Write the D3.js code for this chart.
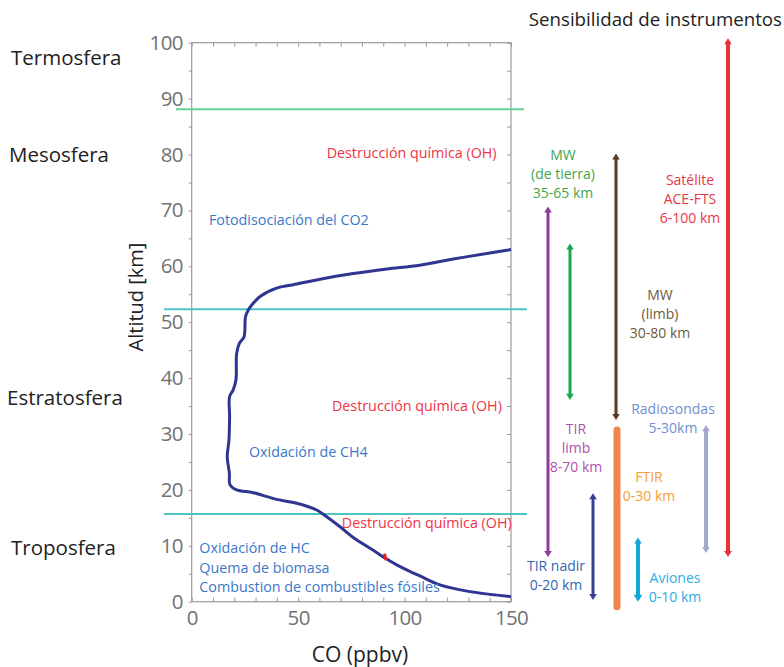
<!DOCTYPE html>
<html><head><meta charset="utf-8">
<script src="https://cdn.jsdelivr.net/npm/d3@7"></script>
<style>
body{margin:0;background:#fff;}
svg text{font-family:"Open Sans","Noto Sans",sans-serif;}
</style></head>
<body><svg id="c" width="784" height="667"></svg>
<script>
// ---------- DATA ----------
const profileAlt = [0.9,1.8,3.0,4.6,5.7,6.6,7.8,9.2,11.5,13.4,15.2,16.4,17.6,18.3,19.5,20.0,20.9,23,25.9,28.9,33.1,36.7,37.9,39.7,44.4,46.2,47.4,51,52.3,53.2,54.6,56.1,56.7,57.7,58.7,59.5,60.2,61.3,62.3,63.0];
const profileCO  = [150,130.7,116.6,107.2,101,96.3,90.8,85.3,75.9,69.7,63.4,58.7,49.3,39.9,28.9,21.1,18,17.7,16.7,17.5,17.8,17.8,19.5,20.8,21.1,22.4,24.6,25.3,26.8,28.5,32.1,39.9,47.7,60.3,75.9,91.6,107.2,122.9,138.6,150];
const redAlt = [8.6,7.4];
const redCO  = [90.6,91.2];
const boundaryAlt = [88.1,52.3,15.7];
const layerNames = ["Termosfera","Mesosfera","Estratosfera","Troposfera"];
const xTickLabels = [0,50,100,150];
const yTickLabels = [0,10,20,30,40,50,60,70,80,90,100];
const annoText = ["Destrucción química (OH)","Fotodisociación del CO2","Destrucción química (OH)","Oxidación de CH4","Destrucción química (OH)","Oxidación de HC","Quema de biomasa","Combustion de combustibles fósiles"];
const annoCO   = [63.4,8.1,65.9,26.9,70.5,3.6,3.6,3.6];
const annoAlt  = [80.3,68.3,35.0,26.8,14.1,9.55,6.0,2.7];
const instrNames = ["ACE-FTS","TIR limb","MW tierra","MW limb","FTIR","Radiosondas","TIR nadir","Aviones"];
const instrLow  = [8.0,8.0,36.1,32.5,-0.9,8.7,0.3,0.0];
const instrHigh = [100.8,70.7,64.1,80.2,30.7,31.6,19.4,11.5];
const instrLabels = [["Satélite","ACE-FTS","6-100 km"],["TIR","limb","8-70 km"],["MW","(de tierra)","35-65 km"],["MW","(limb)","30-80 km"],["FTIR","0-30 km"],["Radiosondas","5-30km"],["TIR nadir","0-20 km"],["Aviones","0-10 km"]];
const instrLabelAlt = [74.5,30.0,79.0,54.0,21.5,33.5,5.5,3.4];

// ---------- LAYOUT / STYLE ----------
const instrX = [728,548,570,616,617,706,593,638];
const instrW = [4,3,3,3,7,4,3,4];
const instrColor = ["#e8323a","#8e3a9a","#1aa653","#5a3a22","#f0854e","#a4a8cf","#3b3f91","#12a6dc"];
const instrLabelX = [690,576,563,660,649,673,556,675];
const instrLabelColor = ["#e83848","#b050b0","#3fa64a","#6e5a3e","#f5a030","#6f8fcf","#3466b0","#2aaee8"];
const annoColor = ["#ee3344","#3a78c8","#ee3344","#3a78c8","#ee3344","#3a78c8","#3a78c8","#3a78c8"];
const boundaryColor = ["#62d293","#4ec3c3","#4ec3c3"];
const boundaryX0 = [176,164,164], boundaryX1 = [524,527,527];
const layerY = [65,162,405,555], layerX = [11,9,7,11];

const svg = d3.select("#c");
const x = d3.scaleLinear().domain([0,150]).range([191.7,511]);
const y = d3.scaleLinear().domain([0,100]).range([601.7,42.7]);

// frame
svg.append("rect").attr("x",x(0)).attr("y",y(100)).attr("width",x(150)-x(0)).attr("height",y(0)-y(100))
  .attr("fill","none").attr("stroke","#9a9a9a").attr("stroke-width",1.2);

const tickStyle = g => { g.select(".domain").remove(); g.selectAll("line").attr("stroke","#9a9a9a"); };
const minorX = d3.range(0,151,10), minorY = d3.range(0,101,5);
svg.append("g").attr("transform",`translate(0,${y(0)})`).call(d3.axisBottom(x).tickValues(minorX).tickSize(-4).tickFormat("")).call(tickStyle);
svg.append("g").attr("transform",`translate(0,${y(100)})`).call(d3.axisTop(x).tickValues(minorX).tickSize(-4).tickFormat("")).call(tickStyle);
svg.append("g").attr("transform",`translate(${x(0)},0)`).call(d3.axisLeft(y).tickValues(minorY).tickSize(3).tickFormat("")).call(tickStyle);
svg.append("g").attr("transform",`translate(${x(150)},0)`).call(d3.axisRight(y).tickValues(minorY).tickSize(-4).tickFormat("")).call(tickStyle);

// tick labels via axes
const yl = svg.append("g").attr("transform",`translate(${x(0)},0)`)
  .call(d3.axisLeft(y).tickValues(yTickLabels).tickSize(0).tickPadding(9).tickFormat(d3.format("d")));
yl.select(".domain").remove();
yl.selectAll("text").attr("font-family","Liberation Sans, Arial, sans-serif").attr("font-size",20.5).attr("fill","#727272").attr("letter-spacing",-0.7);
const xl = svg.append("g").attr("transform",`translate(0,${y(0)})`)
  .call(d3.axisBottom(x).tickValues(xTickLabels).tickSize(0).tickPadding(9).tickFormat(d3.format("d")));
xl.select(".domain").remove();
xl.selectAll("text").attr("font-family","Liberation Sans, Arial, sans-serif").attr("font-size",20.5).attr("fill","#727272").attr("letter-spacing",-0.7);

// axis titles
svg.append("text").attr("transform","translate(143,297) rotate(-90)").attr("text-anchor","middle")
  .attr("font-size",20).attr("fill","#222").text("Altitud [km]");
svg.append("text").attr("x",360).attr("y",662).attr("text-anchor","middle").attr("font-size",21).attr("fill","#222").text("CO (ppbv)");
svg.append("text").attr("x",782).attr("y",26).attr("text-anchor","end").attr("font-size",18.7).attr("fill","#222").text("Sensibilidad de instrumentos");

// layer names
layerNames.forEach((n,i)=>svg.append("text").attr("x",layerX[i]).attr("y",layerY[i]).attr("font-size",20.5).attr("fill","#222").text(n));

// boundaries
boundaryAlt.forEach((a,i)=>svg.append("line").attr("x1",boundaryX0[i]).attr("x2",boundaryX1[i]).attr("y1",y(a)).attr("y2",y(a))
  .attr("stroke",boundaryColor[i]).attr("stroke-width",2));

// profile
const line = d3.line().x(d=>x(d[0])).y(d=>y(d[1])).curve(d3.curveCatmullRom.alpha(0.5));
svg.append("path").datum(profileCO.map((c,i)=>[c,profileAlt[i]])).attr("d",line)
  .attr("fill","none").attr("stroke","#2f3590").attr("stroke-width",3).attr("stroke-linejoin","round");
svg.append("path").datum(redCO.map((c,i)=>[c,redAlt[i]])).attr("d",d3.line().x(d=>x(d[0])).y(d=>y(d[1])))
  .attr("fill","none").attr("stroke","#e8202a").attr("stroke-width",3);

// annotations
annoText.forEach((t,i)=>svg.append("text").attr("x",x(annoCO[i])).attr("y",y(annoAlt[i])).attr("dy","0.35em")
  .attr("font-size",14.3).attr("fill",annoColor[i]).text(t));

// instrument arrows
const head = (cx,cy,w,dir,col)=>{
  const s = Math.max(3,w*0.9)+0.8, h = s*1.6;
  svg.append("path").attr("d",`M${cx},${cy} L${cx-s},${cy-dir*h} L${cx+s},${cy-dir*h} Z`).attr("fill",col);
};
instrNames.forEach((n,i)=>{
  const yt = y(instrHigh[i]), yb = y(instrLow[i]);
  const w = instrW[i], col = instrColor[i];
  if(i===4){
    svg.append("line").attr("x1",instrX[i]).attr("x2",instrX[i]).attr("y1",yt).attr("y2",yb)
      .attr("stroke",col).attr("stroke-width",w).attr("stroke-linecap","round");
    return;
  }
  const hs = (Math.max(3,w*0.9)+0.8)*1.6;
  svg.append("line").attr("x1",instrX[i]).attr("x2",instrX[i]).attr("y1",yt+hs*0.6).attr("y2",yb-hs*0.6)
    .attr("stroke",col).attr("stroke-width",w);
  head(instrX[i],yt,w*0.7,-1,col);
  head(instrX[i],yb,i===7?w:w*0.7,1,col);
});
// instrument labels
instrLabels.forEach((lines,i)=>{
  const t = svg.append("text").attr("text-anchor","middle").attr("font-size",14).attr("fill",instrLabelColor[i]);
  lines.forEach((l,j)=>t.append("tspan").attr("x",instrLabelX[i]).attr("y",y(instrLabelAlt[i])+j*19).text(l));
});
</script></body></html>
